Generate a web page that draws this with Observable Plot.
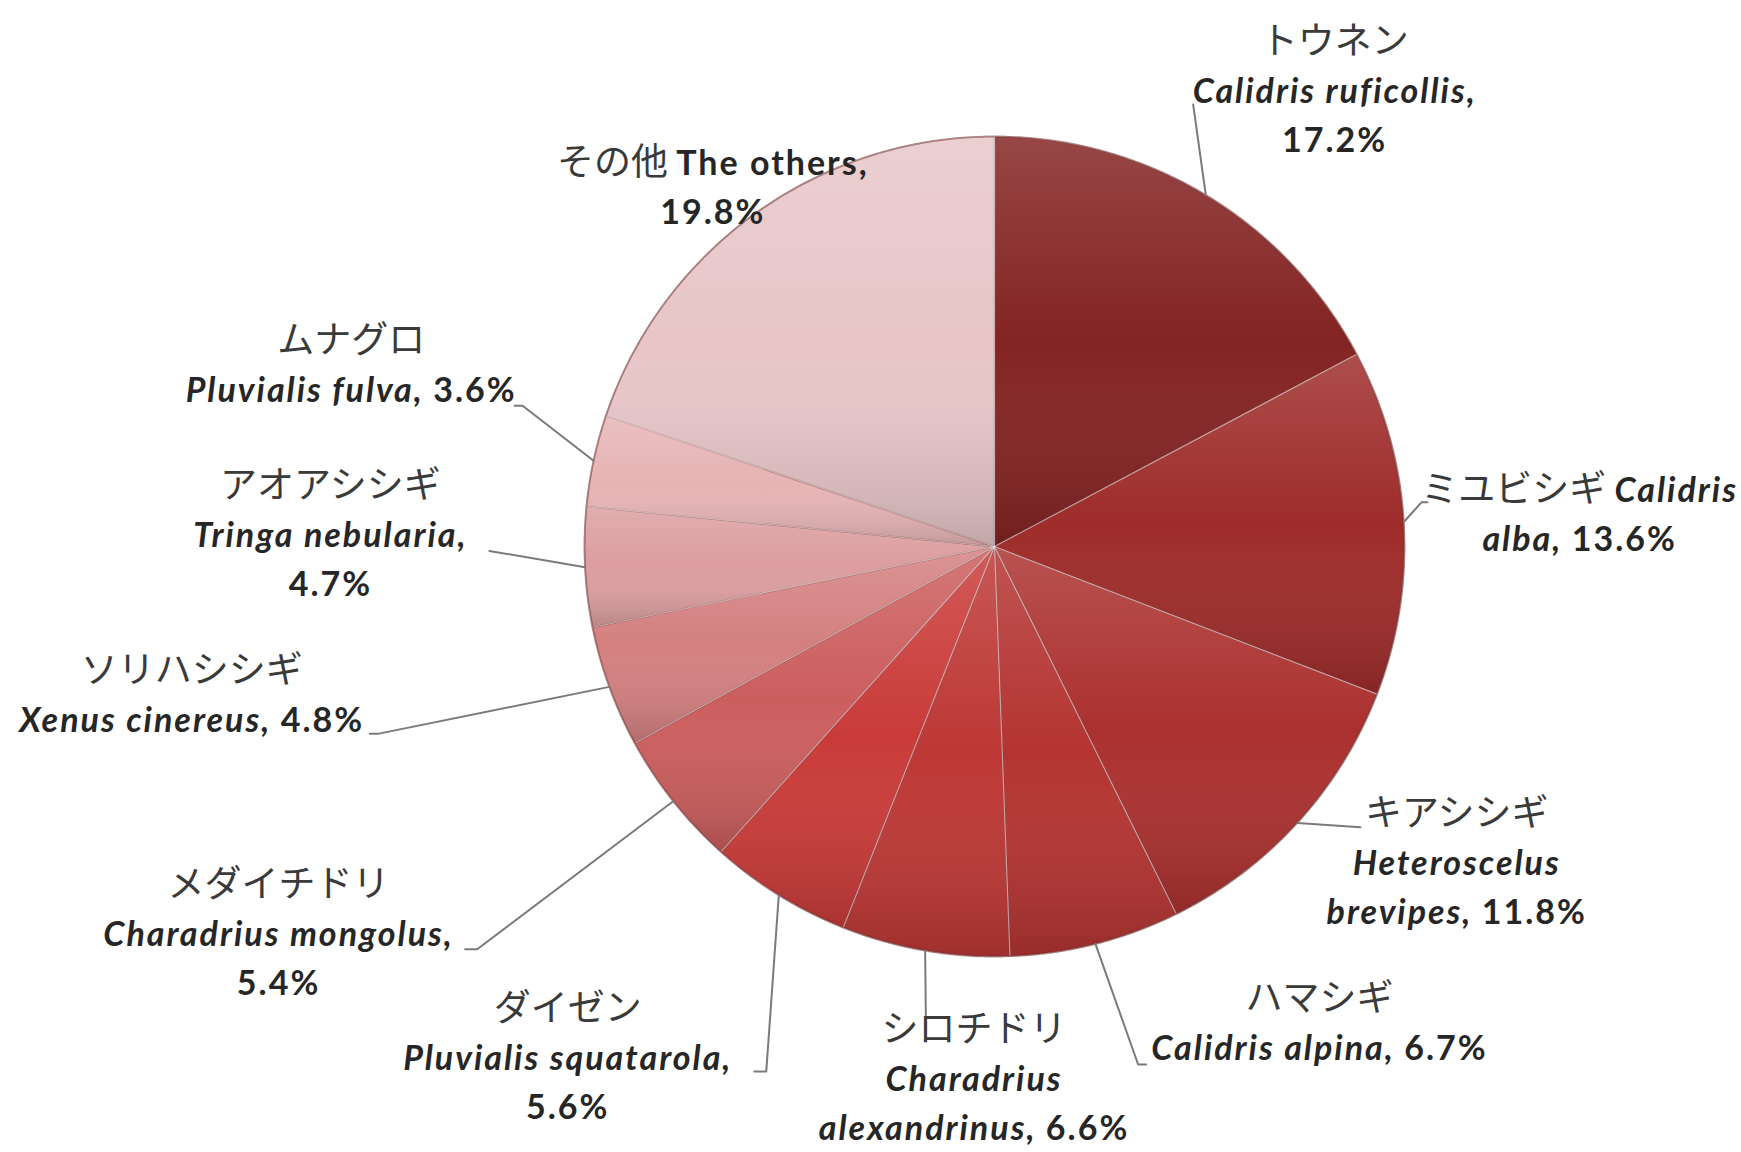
<!DOCTYPE html>
<html><head><meta charset="utf-8">
<script src="https://cdn.jsdelivr.net/npm/d3@7"></script>
<script src="https://cdn.jsdelivr.net/npm/@observablehq/plot@0.6"></script>
<style>html,body{margin:0;padding:0;background:#fff;overflow:hidden}</style>
</head><body><div id="chart"></div>
<script>
// ---- data ----
const japaneseNames = ["トウネン","ミユビシギ","キアシシギ","ハマシギ","シロチドリ","ダイゼン","メダイチドリ","ソリハシシギ","アオアシシギ","ムナグロ","その他"];
const scientificNames = ["Calidris ruficollis","Calidris alba","Heteroscelus brevipes","Calidris alpina","Charadrius alexandrinus","Pluvialis squatarola","Charadrius mongolus","Xenus cinereus","Tringa nebularia","Pluvialis fulva","The others"];
const shares = [17.2,13.6,11.8,6.7,6.6,5.6,5.4,4.8,4.7,3.6,19.8];

// ---- style / layout (not data) ----
const palette = ["#842323","#9e2c2a","#ab312f","#b43432","#bd3835","#c93b39","#cc5e5e","#d48080","#dc9ea0","#e6b4b5","#e8c6c8"];
const italicName = [true,true,true,true,true,true,true,true,true,true,false];
const labelLines = [["J","S,","P"],["J G","E, P"],["J","G","E, P"],["J","S, P"],["J","G","E, P"],["J","S,","P"],["J","S,","P"],["J","S, P"],["J","S,","P"],["J","S, P"],["J S,","P"]];
// label block centre: [angle deg clockwise from 12 o'clock, distance in radii]
const labelPolar = [[36.8,1.385],[87.0,1.429],[124.5,1.368],[145.8,1.410],[182.2,1.302],[219.8,1.626],[241.5,1.987],[259.4,1.992],[270.9,1.620],[285.6,1.629],[321.8,1.111]];
const leaderPolar = [[24.2,1.182],[84.1,1.047],[127.5,1.125],[164.5,1.311],[188.3,1.160],[203.5,1.396],[232.1,1.599],[253.1,1.572],[269.5,1.232],[286.6,1.201],null];
const leaderHook = [0,6,0,8,0,-12,-12,-8,0,-8,0];
const W = 1741, H = 1152, CX = 994, CY = 546, R_PX = 410, LINE_PX = 49;

const u = px => px / R_PX;
const rad = deg => deg * Math.PI / 180;
const polar = (a, d) => [d * Math.sin(a), d * Math.cos(a)];

const arcs = d3.pie().sort(null).value(d => d)(shares);
const slices = arcs.map((p, i) => ({i, name: japaneseNames[i], start: p.startAngle, end: p.endAngle, mid: (p.startAngle + p.endAngle) / 2}));

const slicePts = slices.flatMap(s => {
  const n = Math.max(4, Math.ceil((s.end - s.start) / 0.004));
  const pts = [{name: s.name, x: 0, y: 0}];
  for (let k = 0; k <= n; k++) {
    const [x, y] = polar(s.start + (s.end - s.start) * k / n, 1);
    pts.push({name: s.name, x, y});
  }
  pts.push({name: s.name, x: 0, y: 0});
  return pts;
});

const leaderPts = slices.flatMap(s => {
  const lp = leaderPolar[s.i];
  if (!lp) return [];
  const [x0, y0] = polar(s.mid, 1);
  const [x1, y1] = polar(rad(lp[0]), lp[1]);
  const pts = [{id: s.i, x: x0, y: y0}, {id: s.i, x: x1, y: y1}];
  if (leaderHook[s.i]) pts.push({id: s.i, x: x1 + u(leaderHook[s.i]), y: y1});
  return pts;
});

function segments(i, tpl) {
  const sci = scientificNames[i];
  const parts = sci.split(" ");
  const genus = parts[0], epithet = parts.slice(1).join(" ");
  const sciStyle = italicName[i] ? "it" : "b";
  const out = [];
  for (const ch of tpl) {
    let seg = null;
    if (ch === "J") seg = {s: "ja", t: japaneseNames[i]};
    else if (ch === "S") seg = {s: sciStyle, t: sci};
    else if (ch === "G") seg = {s: sciStyle, t: genus};
    else if (ch === "E") seg = {s: sciStyle, t: epithet};
    else if (ch === "P") seg = {s: "b", t: shares[i].toFixed(1) + "%"};
    if (seg) out.push(seg);
    else if (out.length) out[out.length - 1].t += ch;
    else out.push({s: "b", t: ch});
  }
  return out.map(o => o.s + "\u0002" + o.t).join("\u0001");
}

const textRows = slices.flatMap(s => {
  const lines = labelLines[s.i];
  const [cx, cy] = polar(rad(labelPolar[s.i][0]), labelPolar[s.i][1]);
  const n = lines.length;
  return lines.map((tpl, k) => ({x: cx, y: cy + ((n - 1) / 2 - k) * u(LINE_PX), text: segments(s.i, tpl)}));
});

const svg = Plot.plot({
  width: W, height: H,
  marginTop: 0, marginRight: 0, marginBottom: 0, marginLeft: 0,
  x: {domain: [u(-CX), u(W - CX)], axis: null},
  y: {domain: [u(-(H - CY)), u(CY)], axis: null},
  color: {domain: japaneseNames, range: palette},
  style: {background: "#fff"},
  marks: [
    Plot.line(slicePts, {x: "x", y: "y", z: "name", fill: "name", stroke: "#6e2424", strokeOpacity: 0.45, strokeWidth: 1.5, curve: "linear"}),
    Plot.line(slicePts, {x: "x", y: "y", z: "name", fill: "url(#sliceShade)", stroke: "#ffffff", strokeOpacity: 0.3, strokeWidth: 1.2, curve: "linear"}),
    Plot.dot([{x: 0, y: 0}], {x: "x", y: "y", r: R_PX, fill: "none", stroke: "#5a1515", strokeOpacity: 0.3, strokeWidth: 2}),
    Plot.line(leaderPts, {x: "x", y: "y", z: "id", stroke: "#7a7a7a", strokeWidth: 2, curve: "linear"}),
    Plot.text(textRows, {x: "x", y: "y", text: "text", textAnchor: "middle", fontSize: 34, fill: "#2b2b2b"})
  ]
});

// gradient definition for the Excel-like slice shading
const defs = d3.select(svg).insert("defs", ":first-child");
const g = defs.append("linearGradient").attr("id", "sliceShade").attr("x1", 0).attr("y1", 0).attr("x2", 0).attr("y2", 1);
g.append("stop").attr("offset", "0%").attr("stop-color", "#ffffff").attr("stop-opacity", 0.16);
g.append("stop").attr("offset", "50%").attr("stop-color", "#ffffff").attr("stop-opacity", 0);
g.append("stop").attr("offset", "100%").attr("stop-color", "#000000").attr("stop-opacity", 0.16);

// rich text: split encoded segments into styled tspans
const segStyle = {
  ja: {family: "'Noto Sans CJK JP', sans-serif", weight: 400, style: "normal", size: 37, fill: "#3a3a3a", ls: 0},
  it: {family: "Lato, 'Open Sans', sans-serif", weight: 700, style: "italic", size: 34, fill: "#262626", ls: 2},
  b:  {family: "Lato, 'Open Sans', sans-serif", weight: 700, style: "normal", size: 34, fill: "#262626", ls: 2}
};
d3.select(svg).selectAll("g[aria-label='text'] text").each(function() {
  const raw = this.textContent;
  if (!raw.includes("\u0002")) return;
  const el = d3.select(this);
  el.text(null);
  raw.split("\u0001").forEach(part => {
    const [s, t] = part.split("\u0002");
    const st = segStyle[s];
    el.append("tspan").text(t)
      .attr("font-family", st.family).attr("font-weight", st.weight)
      .attr("font-style", st.style).attr("font-size", st.size).attr("fill", st.fill)
      .attr("letter-spacing", st.ls)
      .style("white-space", "pre");
  });
});

document.getElementById("chart").appendChild(svg);
</script>
</body></html>
